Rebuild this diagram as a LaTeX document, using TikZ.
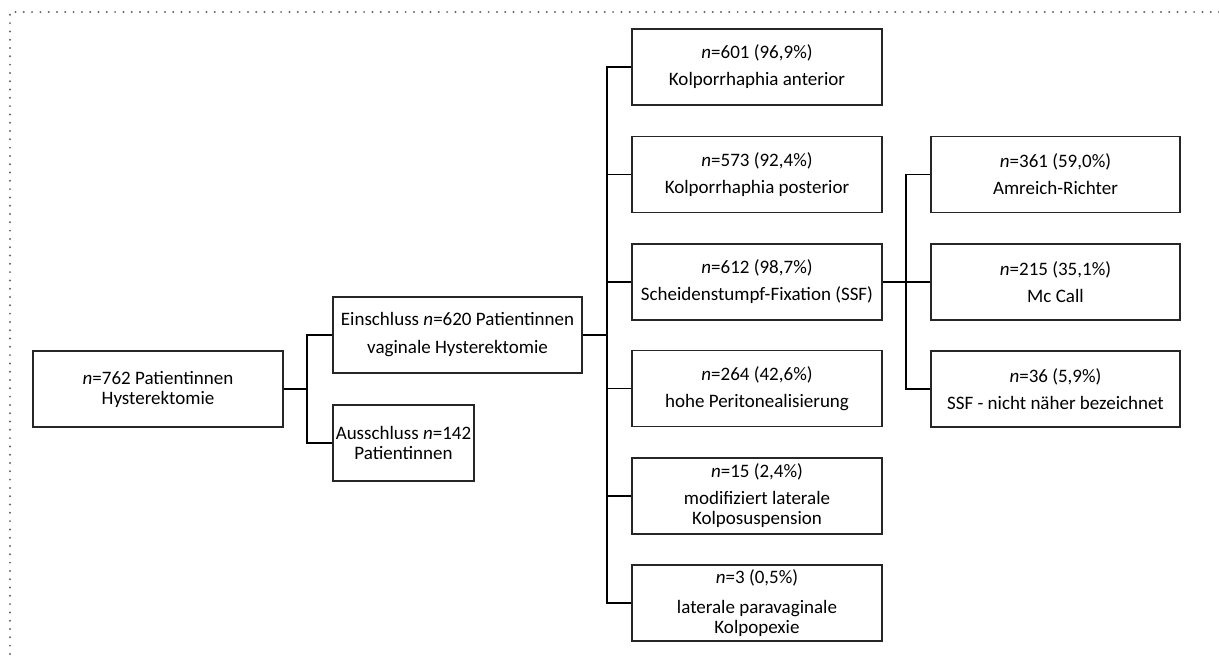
\documentclass[tikz,border=0pt]{standalone}
\usepackage{fontspec}
\setmainfont{Carlito}
\begin{document}
\begin{tikzpicture}[x=1pt,y=-1pt,
  box/.style={draw=black!85, line width=1.2pt, rectangle, minimum height=76pt,
    inner sep=0pt, align=center, font=\fontsize{19}{20}\selectfont},
  wbox/.style={box, minimum width=250pt},
  link/.style={draw=black, line width=1.3pt},
  mainlink/.style={draw=black, line width=2pt},
  frame/.style={draw=black!60, line width=2.2pt, line cap=round, dash pattern=on 0pt off 8.3pt}]
\useasboundingbox (0,0) rectangle (1219,659);
\draw[frame] (1219,12) -- (10,12) -- (10,659);

% level 0
\node[wbox] (a) at (158,389) {\textit{n}=762 Patientinnen\\Hysterektomie};
% level 1
\node[wbox, minimum width=249pt] (b) at (457.5,335) {Einschluss \textit{n}=620 Patientinnen\\[8pt]vaginale Hysterektomie};
\node[box, minimum width=141pt] (c) at (403.5,443) {Ausschluss \textit{n}=142\\Patientinnen};
% level 2
\node[wbox] (m1) at (757,67) {\textit{n}=601 (96,9\%)\\[7pt]Kolporrhaphia anterior};
\node[wbox] (m2) at (757,174.5) {\textit{n}=573 (92,4\%)\\[7pt]Kolporrhaphia posterior};
\node[wbox] (m3) at (757,282) {\textit{n}=612 (98,7\%)\\[7pt]Scheidenstumpf-Fixation (SSF)};
\node[wbox] (m4) at (757,388.5) {\textit{n}=264 (42,6\%)\\[7pt]hohe Peritonealisierung};
\node[wbox] (m5) at (757,496) {\textit{n}=15 (2,4\%)\\[7pt]modifiziert laterale\\Kolposuspension};
\node[wbox] (m6) at (757,603) {\textit{n}=3 (0,5\%)\\[10pt]laterale paravaginale\\Kolpopexie};
% level 3
\node[wbox, minimum width=249pt] (r1) at (1055.5,174.5) {\textit{n}=361 (59,0\%)\\[7pt]Amreich-Richter};
\node[wbox, minimum width=249pt] (r2) at (1055.5,282) {\textit{n}=215 (35,1\%)\\[7pt]Mc Call};
\node[wbox, minimum width=249pt] (r3) at (1055.5,389) {\textit{n}=36 (5,9\%)\\[7pt]SSF - nicht näher bezeichnet};

% junctions
\coordinate (ja) at (307,389);
\coordinate (jb) at (607,335);
\coordinate (jm) at (906,282);

\draw[mainlink] (a.east) -- (ja);
\draw[link] (ja) |- (b.west);
\draw[link] (ja) |- (c.west);

\draw[mainlink] (b.east) -- (jb);
\draw[link] (jb) |- (m1.west);
\draw[link] (jb) |- (m2.west);
\draw[link] (jb) |- (m3.west);
\draw[link] (jb) |- (m4.west);
\draw[link] (jb) |- (m5.west);
\draw[link] (jb) |- (m6.west);

\draw[mainlink] (m3.east) -- (jm);
\draw[link] (jm) |- (r1.west);
\draw[link] (jm) |- (r2.west);
\draw[link] (jm) |- (r3.west);
\end{tikzpicture}
\end{document}
